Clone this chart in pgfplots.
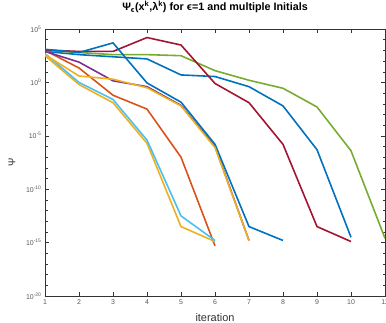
\documentclass[border=0pt]{standalone}
\usepackage{pgfplots}
\pgfplotsset{compat=1.18}
\usepackage{fontspec}
\setmainfont{Liberation Sans}
\definecolor{mblue}{rgb}{0,0.447,0.741}
\definecolor{morange}{rgb}{0.85,0.325,0.098}
\definecolor{myellow}{rgb}{0.929,0.694,0.125}
\definecolor{mpurple}{rgb}{0.494,0.184,0.556}
\definecolor{mgreen}{rgb}{0.466,0.674,0.188}
\definecolor{mlblue}{rgb}{0.301,0.745,0.933}
\definecolor{mred}{rgb}{0.635,0.078,0.184}
\begin{document}
\begin{tikzpicture}[x=1bp,y=1bp]
\useasboundingbox (0,0) rectangle (386,323);
\begin{axis}[
  at={(45bp,27bp)}, anchor=south west,
  scale only axis, width=340bp, height=267bp,
  ymode=log, xmin=1, xmax=11, ymin=1e-20, ymax=1e5,
  xtick={1,2,3,4,5,6,7,8,9,10,11},
  xticklabels={1,2,3,4,5,6,7,8,9,10,11},
  ytick={1e-20,1e-15,1e-10,1e-5,1,1e5},
  yticklabels={10\textsuperscript{-20},10\textsuperscript{-15},10\textsuperscript{-10},10\textsuperscript{-5},10\textsuperscript{0},10\textsuperscript{5}},
  minor ytick={1e-19,1e-18,1e-17,1e-16,1e-14,1e-13,1e-12,1e-11,1e-9,1e-8,1e-7,1e-6,1e-4,1e-3,1e-2,1e-1,1e1,1e2,1e3,1e4},
  tick align=inside, tick pos=both,
  major tick length=4bp, minor tick length=2.5bp,
  axis line style={black!80},
  every tick/.style={black!80},
  tick label style={font=\fontsize{7}{8}\selectfont, text=black!65},
  xlabel={iteration}, ylabel={Ψ},
  xlabel style={font=\fontsize{11}{12}\selectfont, text=black!80, at={(axis description cs:0.5,-0.082)}, anchor=center},
  ylabel style={font=\fontsize{10}{12}\selectfont, text=black!80, at={(axis description cs:-0.097,0.5)}, anchor=center},
  title={\textbf{Ψ\textsubscript{ϵ}(x\textsuperscript{k},λ\textsuperscript{k}) for ϵ=1 and multiple Initials}},
  title style={font=\fontsize{10.8}{12}\selectfont, at={(axis description cs:0.5,1.06)}, anchor=center},
  every axis plot/.append style={line width=1.6pt, no markers},
]
% blue B
\addplot[mblue] coordinates {(1,794) (2,398) (3,251) (4,158) (5,5.01) (6,3.55) (7,0.398) (8,6.31e-3) (9,5.01e-7) (10,3.16e-15)};
% orange
\addplot[morange] coordinates {(1,1000) (2,22.4) (3,0.0631) (4,3.16e-3) (5,1e-7) (6,5.01e-16)};
% yellow 1
\addplot[myellow] coordinates {(1,316) (2,0.631) (3,0.0126) (4,2.0e-6) (5,3.16e-14) (6,1.26e-15)};
% purple
\addplot[mpurple] coordinates {(1,794) (2,79.4) (3,1.41) (4,0.398) (5,7.08e-3) (6,1e-6) (7,1.585e-15)};
% green
\addplot[mgreen] coordinates {(1,1000) (2,631) (3,398) (4,398) (5,316) (6,12.6) (7,1.585) (8,0.282) (9,5.01e-3) (10,3.98e-7) (11,2.51e-15)};
% light blue
\addplot[mlblue] coordinates {(1,501) (2,1.0) (3,0.0251) (4,3.98e-6) (5,3.16e-13) (6,1.585e-15)};
% dark red
\addplot[mred] coordinates {(1,1072) (2,794) (3,794) (4,15849) (5,3162) (6,0.794) (7,0.0126) (8,1.585e-6) (9,3.16e-14) (10,1.26e-15)};
% blue A
\addplot[mblue] coordinates {(1,1259) (2,631) (3,5012) (4,0.891) (5,0.0141) (6,1.585e-6) (7,3.16e-14) (8,1.585e-15)};
% yellow 2
\addplot[myellow] coordinates {(1,398) (2,3.98) (3,2.0) (4,0.316) (5,6.31e-3) (6,7.94e-7) (7,1.585e-15)};
\end{axis}
\end{tikzpicture}
\end{document}
